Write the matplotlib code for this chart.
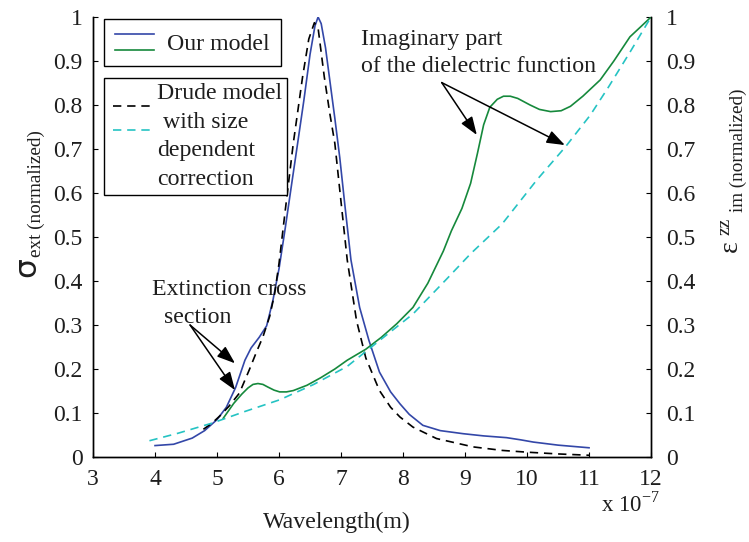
import matplotlib
matplotlib.use('Agg')
import matplotlib.pyplot as plt
from matplotlib.lines import Line2D
from matplotlib.legend_handler import HandlerBase

plt.rcParams['font.family'] = 'Liberation Serif'
plt.rcParams['font.size'] = 17
plt.rcParams['mathtext.fontset'] = 'custom'
plt.rcParams['mathtext.rm'] = 'Liberation Serif'

# extinction cross section, our model (left axis)
ext_ours_x = [4.0, 4.3, 4.6, 4.8, 5.0, 5.15, 5.3, 5.45, 5.55, 5.68, 5.8, 5.9, 6.0, 6.1, 6.2,
              6.3, 6.4, 6.5, 6.58, 6.63, 6.68, 6.75, 6.82, 6.9, 6.98, 7.06, 7.16, 7.3, 7.45,
              7.62, 7.8, 7.95, 8.1, 8.32, 8.6, 8.97, 9.3, 9.67, 9.9, 10.1, 10.5, 11.0]
ext_ours_y = [0.026, 0.029, 0.043, 0.06, 0.085, 0.113, 0.158, 0.22, 0.248, 0.272, 0.298, 0.355,
              0.428, 0.52, 0.617, 0.713, 0.81, 0.915, 0.98, 1.0, 0.985, 0.93, 0.855, 0.77, 0.68,
              0.575, 0.448, 0.34, 0.265, 0.193, 0.148, 0.121, 0.097, 0.072, 0.06, 0.053, 0.048,
              0.044, 0.039, 0.034, 0.027, 0.021]

# extinction cross section, Drude model (left axis)
ext_drude_x = [4.78, 4.92, 5.05, 5.19, 5.36, 5.52, 5.64, 5.74, 5.85, 5.93, 6.0, 6.1, 6.23, 6.38,
               6.48, 6.57, 6.63, 6.73, 6.82, 6.9, 7.0, 7.1, 7.25, 7.4, 7.62, 7.8, 7.95, 8.16,
               8.54, 9.13, 9.6, 10.0, 10.5, 11.0]
ext_drude_y = [0.063, 0.077, 0.094, 0.115, 0.145, 0.198, 0.24, 0.273, 0.32, 0.372, 0.44, 0.56,
               0.713, 0.864, 0.95, 0.987, 0.975, 0.864, 0.78, 0.713, 0.58, 0.448, 0.31, 0.225,
               0.151, 0.113, 0.091, 0.068, 0.042, 0.023, 0.015, 0.011, 0.007, 0.004]

# imaginary part of dielectric function, our model (right axis)
eps_ours_x = [5.1, 5.27, 5.4, 5.5, 5.58, 5.66, 5.74, 5.82, 5.92, 6.01, 6.12, 6.23, 6.45, 6.67,
              6.9, 7.1, 7.4, 7.65, 7.9, 8.16, 8.4, 8.65, 8.78, 8.95, 9.09, 9.2, 9.3, 9.4, 9.52,
              9.62, 9.73, 9.85, 10.05, 10.2, 10.38, 10.55, 10.7, 10.9, 11.18, 11.4, 11.66,
              11.85, 12.0]
eps_ours_y = [0.088, 0.122, 0.143, 0.157, 0.165, 0.167, 0.165, 0.159, 0.152, 0.148, 0.148,
              0.151, 0.163, 0.18, 0.2, 0.22, 0.245, 0.272, 0.303, 0.34, 0.395, 0.468, 0.514,
              0.565, 0.622, 0.69, 0.755, 0.795, 0.813, 0.82, 0.82, 0.815, 0.8, 0.79, 0.785,
              0.787, 0.797, 0.82, 0.857, 0.9, 0.955, 0.98, 1.0]

# imaginary part, Drude model with size correction (right axis)
eps_drude_x = [3.91, 4.37, 4.92, 5.46, 6.01, 6.56, 7.1, 7.65, 8.16, 8.7, 9.09, 9.6, 10.16,
               10.62, 11.02, 11.31, 11.66, 12.0]
eps_drude_y = [0.037, 0.054, 0.077, 0.104, 0.13, 0.165, 0.206, 0.268, 0.325, 0.404, 0.462,
               0.53, 0.63, 0.705, 0.777, 0.84, 0.92, 1.0]

x_ticks = [3, 4, 5, 6, 7, 8, 9, 10, 11, 12]
y_ticks = [0, 0.1, 0.2, 0.3, 0.4, 0.5, 0.6, 0.7, 0.8, 0.9, 1]
y_ticklabels = ['0', '0.1', '0.2', '0.3', '0.4', '0.5', '0.6', '0.7', '0.8', '0.9', '1']

BLUE = '#3347a8'
GREEN = '#16893c'
CYAN = '#25c3c3'
TXT = '#1e1e1e'
FS = 17.2


class StackedLines(HandlerBase):
    # draws the lines of a tuple handle one above the other (offsets in points)
    def __init__(self, offsets, x0=0):
        super().__init__()
        self.offsets = offsets
        self.x0 = x0

    def create_artists(self, legend, orig_handle, xdescent, ydescent, width, height,
                       fontsize, trans):
        arts = []
        for line, dy in zip(orig_handle, self.offsets):
            ln = Line2D([self.x0 - xdescent, width - xdescent], [dy, dy])
            ln.update_from(line)
            ln.set_transform(trans)
            arts.append(ln)
        return arts


fig = plt.figure(figsize=(7.49, 5.42), dpi=100)
ax = fig.add_axes([0.1242, 0.1568, 0.745, 0.8118])
ax2 = ax.twinx()

l_blue, = ax.plot(ext_ours_x, ext_ours_y, color=BLUE, lw=1.2)
l_black, = ax.plot(ext_drude_x, ext_drude_y, color='k', lw=1.2, dashes=(5, 3.5))
l_green, = ax2.plot(eps_ours_x, eps_ours_y, color=GREEN, lw=1.2)
l_cyan, = ax2.plot(eps_drude_x, eps_drude_y, color=CYAN, lw=1.2, dashes=(5, 3.5))

for a in (ax, ax2):
    a.set_xlim(3, 12)
    a.set_ylim(0, 1)
    a.set_yticks(y_ticks)
    a.set_yticklabels(y_ticklabels)
    a.spines['top'].set_visible(False)
    for s in a.spines.values():
        s.set_linewidth(1.0)
    a.tick_params(direction='in', length=3.6, width=0.8, labelsize=17, labelcolor=TXT)
ax.set_xticks(x_ticks)
ax.tick_params(axis='y', pad=7.5)
ax.tick_params(axis='x', pad=8.5)
ax2.tick_params(axis='y', pad=11)

ax.set_xlabel('Wavelength(m)', fontsize=FS, color=TXT)
ax.xaxis.set_label_coords(0.437, -0.148)
ax.xaxis.label.set_va('center')
# axis multiplier as one text
ax.text(1.016, -0.1245, r'x 10$^{\mathregular{-7}}$', transform=ax.transAxes, ha='right',
        va='baseline', fontsize=16.5, color=TXT)

# y labels composed from pieces (MATLAB style)
fig.text(0.0467, 0.4889, '\u03c3', rotation=90, rotation_mode='anchor', ha='left',
         va='baseline', fontsize=22.5, family='DejaVu Sans', color=TXT)
fig.text(0.0547, 0.5258, 'ext (normalized)', rotation=90, rotation_mode='anchor', ha='left',
         va='baseline', fontsize=13.8, color=TXT)
fig.text(0.984, 0.535, '\u03b5', rotation=90, rotation_mode='anchor', ha='left',
         va='baseline', fontsize=20, color=TXT)
fig.text(0.9746, 0.5664, 'zz', rotation=90, rotation_mode='anchor', ha='left',
         va='baseline', fontsize=14, color=TXT)
fig.text(0.992, 0.6089, 'im (normalized)', rotation=90, rotation_mode='anchor', ha='left',
         va='baseline', fontsize=13.8, color=TXT)

# legends
leg1 = ax2.legend(handles=[(l_blue, l_green)], labels=['Our model'], loc='upper left',
                  bbox_to_anchor=(0.0197, 0.9948), borderaxespad=0,
                  handler_map={tuple: StackedLines([11.9, 0])},
                  handlelength=1.65, handleheight=1.15, handletextpad=0.54, borderpad=0.46,
                  fancybox=False, edgecolor='k', framealpha=1, fontsize=FS)
leg1.get_frame().set_linewidth(1.0)
for t in leg1.get_texts():
    t.set_color(TXT)
ax2.add_artist(leg1)

leg2 = ax2.legend(handles=[(l_black, l_cyan)],
                  labels=['Drude model\n with size\ndependent\ncorrection'], loc='upper left',
                  bbox_to_anchor=(0.0197, 0.8616), borderaxespad=0,
                  handler_map={tuple: StackedLines([27.9, 10.3], x0=2.7)},
                  handlelength=1.70, handleheight=0.7, handletextpad=0.29, borderpad=0.22,
                  fancybox=False, edgecolor='k', framealpha=1, fontsize=FS)
leg2.get_frame().set_linewidth(1.0)
for t in leg2.get_texts():
    t.set_color(TXT)
    t.set_linespacing(1.47)

# annotations
arrow = dict(arrowstyle='-|>,head_length=0.55,head_width=0.2', color='k', lw=1.1,
             mutation_scale=20, shrinkA=0, shrinkB=0)
ax2.text(3.95, 0.405, 'Extinction cross\n  section', ha='left', va='top', fontsize=FS,
         color=TXT, linespacing=1.42)
ax2.annotate('', xy=(5.29, 0.213), xytext=(4.565, 0.30), arrowprops=arrow)
ax2.annotate('', xy=(5.29, 0.152), xytext=(4.565, 0.30), arrowprops=arrow)

ax2.text(7.318, 0.973, 'Imaginary part\nof the dielectric function', ha='left', va='top',
         fontsize=FS, color=TXT, linespacing=1.38)
ax2.annotate('', xy=(9.19, 0.732), xytext=(8.624, 0.851), arrowprops=arrow)
ax2.annotate('', xy=(10.61, 0.709), xytext=(8.624, 0.851), arrowprops=arrow)

fig.savefig('out.png', dpi=100)
